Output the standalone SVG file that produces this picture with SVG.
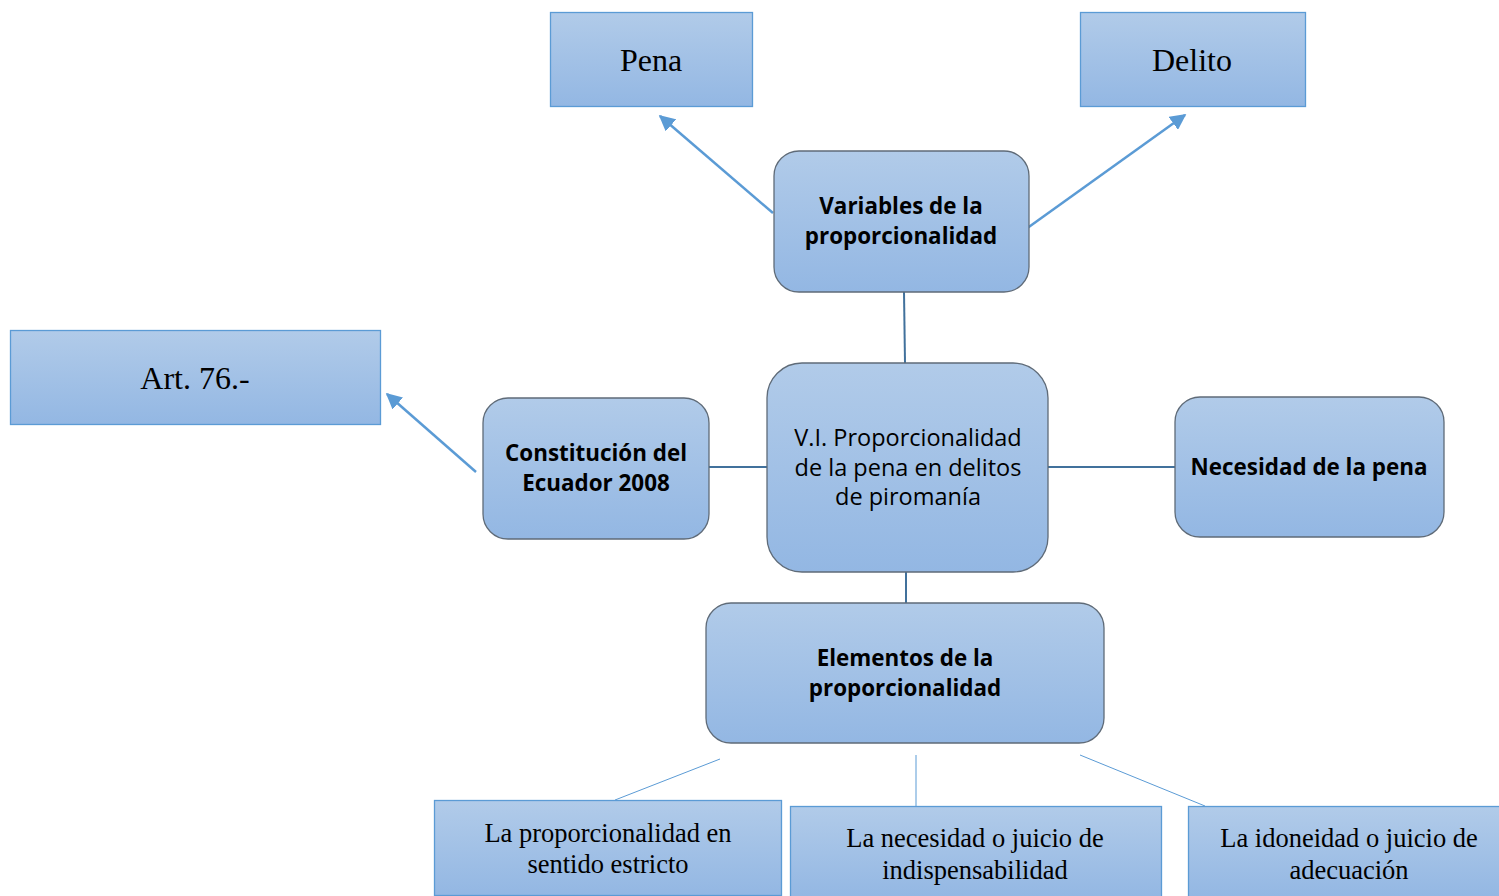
<svg xmlns="http://www.w3.org/2000/svg" width="1499" height="896" viewBox="0 0 1499 896">
<defs>
<linearGradient id="g" x1="0" y1="0" x2="0" y2="1">
<stop offset="0" stop-color="#b1cbe9"/>
<stop offset="1" stop-color="#93b7e3"/>
</linearGradient>
<marker id="arw" viewBox="0 0 10 10" refX="9" refY="5" markerWidth="16" markerHeight="16" markerUnits="userSpaceOnUse" orient="auto">
<path d="M0,0 L10,5 L0,10 z" fill="#5b9bd5"/>
</marker>
</defs>
<style>
.rr{fill:url(#g);stroke:#5f6b78;stroke-width:1.3}
.sq{fill:url(#g);stroke:#5b9bd5;stroke-width:1.3}
.sans{font-family:"Open Sans","Liberation Sans",sans-serif;font-size:23.5px;fill:#000;text-anchor:middle}
.b{font-weight:bold;font-size:22.4px}
.ser{font-family:"Liberation Serif","Times New Roman",serif;fill:#000;text-anchor:middle}
.c{stroke:#5b9bd5;stroke-width:2.5;fill:none}
.cv{stroke:#41719c;stroke-width:2;fill:none}
.ct{stroke:#5b9bd5;stroke-width:1;fill:none}
</style>
<rect width="1499" height="896" fill="#fff"/>
<g id="connectors">
<line class="c" x1="773" y1="213" x2="660" y2="116" marker-end="url(#arw)"/>
<line class="c" x1="1026" y1="229" x2="1185" y2="115" marker-end="url(#arw)"/>
<line class="c" x1="476" y1="472" x2="387" y2="394" marker-end="url(#arw)"/>
<line class="cv" x1="904" y1="292" x2="905" y2="363"/>
<line class="cv" x1="709" y1="467" x2="767" y2="467"/>
<line class="cv" x1="1048" y1="467" x2="1175" y2="467"/>
<line class="cv" x1="906" y1="572" x2="906" y2="603"/>
<line class="ct" x1="720" y1="759" x2="615" y2="800"/>
<line class="ct" x1="916" y1="755" x2="916" y2="806"/>
<line class="ct" x1="1080" y1="755" x2="1205" y2="806"/>
</g>
<g id="pena">
<rect class="sq" x="550.5" y="12.5" width="202" height="94"/>
<text class="ser" x="651" y="71" font-size="32">Pena</text>
</g>
<g id="delito">
<rect class="sq" x="1080.5" y="12.5" width="225" height="94"/>
<text class="ser" x="1192" y="71" font-size="32">Delito</text>
</g>
<g id="variables">
<rect class="rr" x="774" y="151" width="255" height="141" rx="25"/>
<text class="sans b" x="901" y="214">Variables de la</text>
<text class="sans b" x="901" y="244">proporcionalidad</text>
</g>
<g id="art76">
<rect class="sq" x="10.5" y="330.5" width="370" height="94"/>
<text class="ser" x="195" y="389" font-size="32">Art. 76.-</text>
</g>
<g id="constitucion">
<rect class="rr" x="483" y="398" width="226" height="141" rx="25"/>
<text class="sans b" x="596" y="461">Constitución del</text>
<text class="sans b" x="596" y="491">Ecuador 2008</text>
</g>
<g id="central">
<rect class="rr" x="767" y="363" width="281" height="209" rx="35"/>
<text class="sans" x="908" y="446">V.I. Proporcionalidad</text>
<text class="sans" x="908" y="476">de la pena en delitos</text>
<text class="sans" x="908" y="505">de piromanía</text>
</g>
<g id="necesidad">
<rect class="rr" x="1175" y="397" width="269" height="140" rx="25"/>
<text class="sans b" x="1309" y="475">Necesidad de la pena</text>
</g>
<g id="elementos">
<rect class="rr" x="706" y="603" width="398" height="140" rx="25"/>
<text class="sans b" x="905" y="666">Elementos de la</text>
<text class="sans b" x="905" y="696">proporcionalidad</text>
</g>
<g id="estricto">
<rect class="sq" x="434.5" y="800.5" width="347" height="95"/>
<text class="ser" x="608" y="842" font-size="26.5">La proporcionalidad en</text>
<text class="ser" x="608" y="873" font-size="26.5">sentido estricto</text>
</g>
<g id="necesidad-juicio">
<rect class="sq" x="790.5" y="806.5" width="371" height="92"/>
<text class="ser" x="975" y="847" font-size="26.5">La necesidad o juicio de</text>
<text class="ser" x="975" y="879" font-size="26.5">indispensabilidad</text>
</g>
<g id="idoneidad">
<rect class="sq" x="1188.5" y="806.5" width="315" height="92"/>
<text class="ser" x="1349" y="847" font-size="26.5">La idoneidad o juicio de</text>
<text class="ser" x="1349" y="879" font-size="26.5">adecuación</text>
</g>
</svg>
